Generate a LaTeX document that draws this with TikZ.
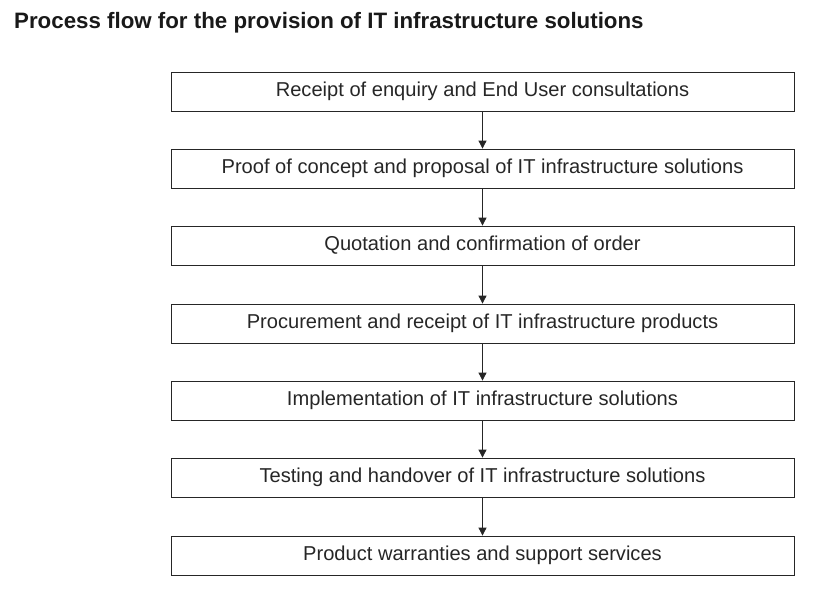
\documentclass[tikz,border=0pt]{standalone}
\usepackage{fontspec}
\setmainfont{Liberation Sans}
\usetikzlibrary{arrows.meta}
\begin{document}
\begin{tikzpicture}[x=1pt,y=-1pt,
  procbox/.style={draw=black!85,line width=0.8pt,minimum width=623pt,minimum height=39pt,inner sep=0pt,font=\fontsize{20.1}{23}\selectfont,text=black!85},
  conn/.style={draw=black!85,line width=0.8pt,-{Triangle[length=8pt,width=8pt]}}]
\useasboundingbox (0,0) rectangle (827,592);
\node[anchor=west,inner sep=0pt,font=\bfseries\fontsize{22.3}{25}\selectfont,text=black!90] (title) at (14,23) {Process flow for the provision of IT infrastructure solutions};
\node[procbox] (s1) at (482.5,91.5) {Receipt of enquiry and End User consultations};
\node[procbox] (s2) at (482.5,168.5) {Proof of concept and proposal of IT infrastructure solutions};
\node[procbox] (s3) at (482.5,245.5) {Quotation and confirmation of order};
\node[procbox] (s4) at (482.5,323.5) {Procurement and receipt of IT infrastructure products};
\node[procbox] (s5) at (482.5,400.5) {Implementation of IT infrastructure solutions};
\node[procbox] (s6) at (482.5,477.5) {Testing and handover of IT infrastructure solutions};
\node[procbox] (s7) at (482.5,555.5) {Product warranties and support services};
\foreach \a/\b in {s1/s2,s2/s3,s3/s4,s4/s5,s5/s6,s6/s7}
  \draw[conn] (\a.south) -- (\b.north);
\end{tikzpicture}
\end{document}
